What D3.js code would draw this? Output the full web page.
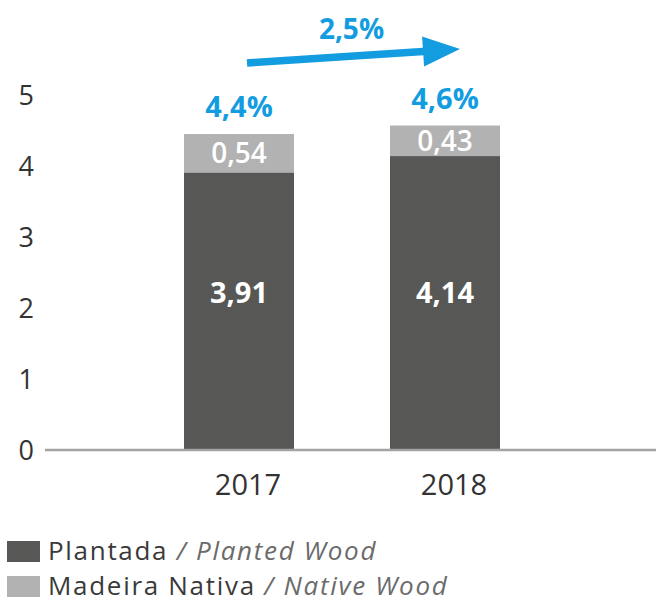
<!DOCTYPE html>
<html>
<head>
<meta charset="utf-8">
<script src="https://cdn.jsdelivr.net/npm/d3@7"></script>
<style>
  html, body { margin: 0; padding: 0; background: #fff; }
  svg { display: block; font-family: "Open Sans", sans-serif; }
</style>
</head>
<body>
<div id="chart"></div>
<script>
// Wood production by origin (stacked), values as printed on the bars
const years = ["2017", "2018"];
const planted = [3.91, 4.14];
const native = [0.54, 0.43];
const shareLabels = ["4,4%", "4,6%"];
const growthLabel = "2,5%";
const yTicks = [0, 1, 2, 3, 4, 5];
const seriesNames = [
  { pt: "Plantada", en: "Planted Wood" },
  { pt: "Madeira Nativa", en: "Native Wood" }
];

const W = 656, H = 602;
const colors = { planted: "#575756", native: "#b2b2b2", blue: "#139de0", text: "#333333" };
const fmt = v => d3.format(".2f")(v).replace(".", ",");

const svg = d3.select("#chart").append("svg").attr("width", W).attr("height", H);

const x = d3.scaleBand().domain(years).range([136, 548]).paddingInner(0.466).paddingOuter(0.233);
const y = d3.scaleLinear().domain([0, 5]).range([450, 95]);

const rows = years.map((yr, i) => ({ year: yr, planted: planted[i], native: native[i], share: shareLabels[i] }));
const stack = d3.stack().keys(["planted", "native"])(rows);

// stacked bars
const layers = svg.append("g").selectAll("g").data(stack).join("g")
  .attr("fill", d => colors[d.key]);
layers.selectAll("rect").data(d => d).join("rect")
  .attr("x", d => x(d.data.year))
  .attr("width", x.bandwidth())
  .attr("y", d => y(d[1]))
  .attr("height", d => y(d[0]) - y(d[1]));

// value labels: planted values share one common height, native values sit mid-segment
const labelLevel = 2.22;
layers.selectAll("text").data(d => d.map(s => Object.assign({ key: d.key }, s))).join("text")
  .attr("x", d => x(d.data.year) + x.bandwidth() / 2)
  .attr("y", d => d.key === "planted" ? y(labelLevel) : (y(d[0]) + y(d[1])) / 2)
  .attr("dy", "0.36em")
  .attr("text-anchor", "middle")
  .attr("fill", "#ffffff")
  .attr("font-size", d => d.key === "planted" ? 29 : 28)
  .attr("font-weight", d => d.key === "planted" ? 700 : 600)
  .text(d => fmt(d.data[d.key]));

// share labels above bars
svg.append("g").selectAll("text").data(rows).join("text")
  .attr("x", d => x(d.year) + x.bandwidth() / 2)
  .attr("y", d => y(d.planted + d.native) - 17)
  .attr("text-anchor", "middle")
  .attr("fill", colors.blue)
  .attr("font-size", 29)
  .attr("font-weight", 700)
  .text(d => d.share);

// baseline
svg.append("line")
  .attr("x1", 45).attr("x2", W)
  .attr("y1", y(0)).attr("y2", y(0))
  .attr("stroke", "#a3a3a3").attr("stroke-width", 2.5);

// y axis labels
const yAxis = d3.axisLeft(y).tickValues(yTicks).tickSize(0).tickPadding(0).tickFormat(d3.format("d"));
const gy = svg.append("g").attr("transform", "translate(34,0)").call(yAxis);
gy.select(".domain").remove();
gy.selectAll("text")
  .attr("font-family", "'Open Sans', sans-serif")
  .attr("font-size", 27)
  .attr("fill", colors.text)
  .attr("dy", "0.36em");

// x axis labels
const xAxis = d3.axisBottom(x).tickSize(0).tickPadding(0);
const gx = svg.append("g").attr("transform", `translate(9,${y(0) + 24})`).call(xAxis);
gx.select(".domain").remove();
gx.selectAll("text")
  .attr("font-family", "'Open Sans', sans-serif")
  .attr("font-size", 29)
  .attr("fill", colors.text)
  .attr("dy", "0.72em");

// growth arrow between the two years
const ax0 = x(years[0]) + x.bandwidth() / 2 + 8, ay0 = 63;
const ax1 = x(years[1]) + x.bandwidth() / 2 + 15, ay1 = 49;
const ang = Math.atan2(ay1 - ay0, ax1 - ax0);
const headLen = 37, headHalf = 15, shaft = 3.8;
const ux = Math.cos(ang), uy = Math.sin(ang), nx = -uy, ny = ux;
const bx = ax1 - ux * headLen, by = ay1 - uy * headLen;
const pts = [
  [ax0 + nx * shaft, ay0 + ny * shaft],
  [bx + nx * shaft, by + ny * shaft],
  [bx + nx * headHalf, by + ny * headHalf],
  [ax1, ay1],
  [bx - nx * headHalf, by - ny * headHalf],
  [bx - nx * shaft, by - ny * shaft],
  [ax0 - nx * shaft, ay0 - ny * shaft]
];
svg.append("path").attr("d", d3.line()(pts) + "Z").attr("fill", colors.blue);
svg.append("text")
  .attr("x", (ax0 + ax1) / 2 - 2).attr("y", 39)
  .attr("text-anchor", "middle")
  .attr("fill", colors.blue)
  .attr("font-size", 28).attr("font-weight", 700)
  .text(growthLabel);

// legend
const leg = svg.append("g").selectAll("g").data(seriesNames).join("g")
  .attr("transform", (d, i) => `translate(7,${541 + i * 35})`);
leg.append("rect").attr("width", 33).attr("height", 21)
  .attr("fill", (d, i) => i === 0 ? colors.planted : colors.native);
const lt = leg.append("text").attr("x", 41).attr("y", 19)
  .attr("font-size", 26).attr("letter-spacing", 1.7);
lt.append("tspan").attr("fill", "#3a3a3a").text(d => d.pt);
lt.append("tspan").attr("fill", "#6b6b6b").attr("font-style", "italic").text(d => " / " + d.en);
</script>
</body>
</html>
